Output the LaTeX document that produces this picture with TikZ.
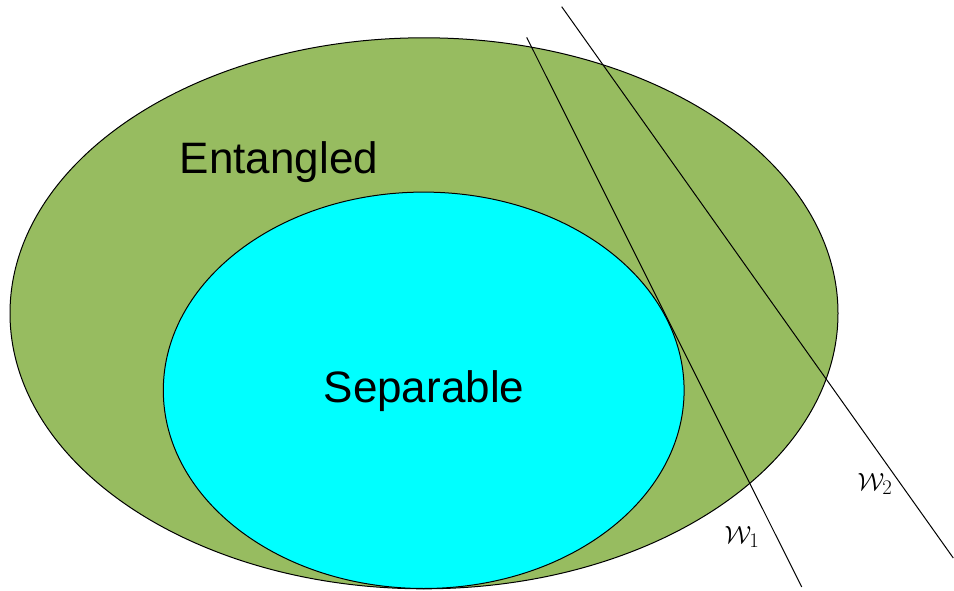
\documentclass[tikz,border=0pt]{standalone}
\usepackage{fontspec}
\setmainfont{Liberation Sans}
\definecolor{olivegreen}{HTML}{97BC60}
\definecolor{sepcyan}{HTML}{00FFFF}
\begin{document}
\begin{tikzpicture}[x=1pt,y=-1pt,
  setshape/.style={draw=black,line width=1pt},
  wline/.style={draw=black,line width=1pt},
  biglabel/.style={font=\fontsize{44}{50}\selectfont,inner sep=0pt},
  wlabel/.style={font=\fontsize{28}{32}\selectfont,inner sep=0pt}]
\useasboundingbox (0,0) rectangle (954,591);
\path[setshape,fill=olivegreen] (424,313.3) ellipse [x radius=414, y radius=275.5];
\path[setshape,fill=sepcyan] (423.7,390.3) ellipse [x radius=260.4, y radius=198.2];
\node[biglabel] (ent) at (279,162) {Entangled};
\node[biglabel] (sep) at (424,391) {Separable};
\coordinate (w1a) at (526.7,37.3);
\coordinate (w1b) at (801.7,587);
\coordinate (w2a) at (561.7,6.7);
\coordinate (w2b) at (953.3,558);
\draw[wline] (w1a) -- (w1b);
\draw[wline] (w2a) -- (w2b);
\node[wlabel] (l1) at (742,537) {$\mathcal{W}_1$};
\node[wlabel] (l2) at (875,484) {$\mathcal{W}_2$};
\end{tikzpicture}
\end{document}
